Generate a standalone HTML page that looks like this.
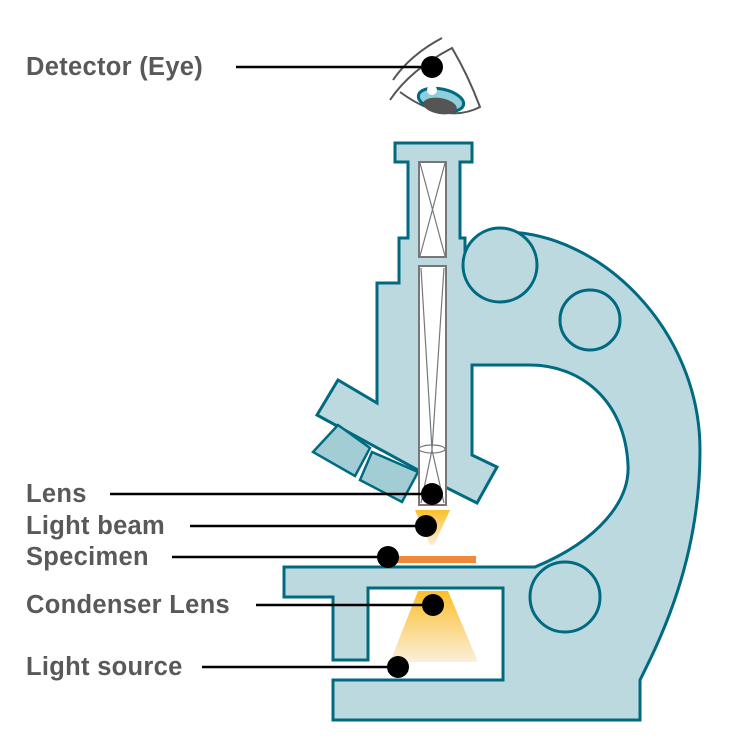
<!DOCTYPE html>
<html><head><meta charset="utf-8"><style>
html,body{margin:0;padding:0;background:#fff;}
svg{display:block;}
text{font-family:"Liberation Sans",sans-serif;font-weight:bold;font-size:25.5px;letter-spacing:0.3px;fill:#595959;}
</style></head><body>
<svg width="753" height="753" viewBox="0 0 753 753">
<defs>
<linearGradient id="beam" x1="0" y1="0" x2="0" y2="1"><stop offset="0" stop-color="#fbbf2a"/><stop offset="1" stop-color="#fbefdc"/></linearGradient>
</defs>
<g>
<path d="M393,80 Q410,55 442,38" fill="none" stroke="#555" stroke-width="2"/>
<path d="M390,100 Q410,70 452,48 Q468,75 480,107 Q445,125 400,92" fill="none" stroke="#555" stroke-width="2"/>
<ellipse cx="441" cy="100" rx="23" ry="11" transform="rotate(12 441 100)" fill="#8ecfdc" stroke="#006a80" stroke-width="3"/>
<ellipse cx="440" cy="106" rx="17" ry="8" transform="rotate(10 440 106)" fill="#555"/>
<circle cx="432" cy="90" r="5" fill="#fff"/>
</g>
<path d="M395,143 H472 V162 H460 V238 H465 V250 L500,232 C600,230 700,330 700,450 C700,560 660,640 640,680 V720 H333 V680 H503 V588 H368 V660 H333 V597 H284 V567 H535 C600,540 630,500 628,465 C625,400 580,365 530,365 H472 V455 L497,467 L477,503 L447,488 L418,470 L317,415 L338,380 L377,403 V283 H399 V238 H408 V162 H395 Z" fill="#bcd9e0" stroke="#006a80" stroke-width="3" stroke-linejoin="miter"/>
<polygon points="313,452 338,425 370,448 355,476" fill="#a3cdd5" stroke="#006a80" stroke-width="2.5"/>
<polygon points="372,452 418,472 402,502 360,480" fill="#a3cdd5" stroke="#006a80" stroke-width="2.5"/>
<circle cx="500" cy="265" r="37" fill="#bcd9e0" stroke="#006a80" stroke-width="3"/>
<circle cx="590" cy="320" r="30" fill="#bcd9e0" stroke="#006a80" stroke-width="3"/>
<circle cx="565" cy="597" r="35" fill="#bcd9e0" stroke="#006a80" stroke-width="3"/>
<g stroke="#777" stroke-width="2" fill="#fff">
<rect x="419" y="162" width="27" height="95"/>
<path d="M420,163 L445,256 M445,163 L420,256" fill="none" stroke-width="1.2"/>
<rect x="419" y="266" width="27" height="239"/>
<path d="M421,268 L432,450 L421,503 M444,268 L432,450 L444,503" fill="none" stroke-width="1.2"/>
<ellipse cx="432" cy="449" rx="13" ry="4" fill="none" stroke-width="1.2"/>
</g>
<polygon points="415,510 450,510 434,545 430,545" fill="url(#beam)"/>
<rect x="387" y="556" width="89" height="7" fill="#f08a3a"/>
<polygon points="418,591 448,591 478,662 390,662" fill="url(#beam)"/>
<g stroke="#000" stroke-width="2.5">
<line x1="236" y1="67" x2="432" y2="67"/>
<line x1="110" y1="494" x2="432" y2="494"/>
<line x1="190" y1="526" x2="426" y2="526"/>
<line x1="172" y1="557" x2="388" y2="557"/>
<line x1="256" y1="605" x2="433" y2="605"/>
<line x1="202" y1="667" x2="398" y2="667"/>
</g>
<g fill="#000">
<circle cx="432" cy="67" r="11"/>
<circle cx="432" cy="494" r="11"/>
<circle cx="426" cy="526" r="11"/>
<circle cx="388" cy="557" r="11"/>
<circle cx="433" cy="605" r="11"/>
<circle cx="398" cy="667" r="11"/>
</g>
<text x="26" y="75">Detector (Eye)</text>
<text x="26" y="502">Lens</text>
<text x="26" y="534">Light beam</text>
<text x="26" y="565">Specimen</text>
<text x="26" y="613">Condenser Lens</text>
<text x="26" y="675">Light source</text>
</svg>
</body></html>
